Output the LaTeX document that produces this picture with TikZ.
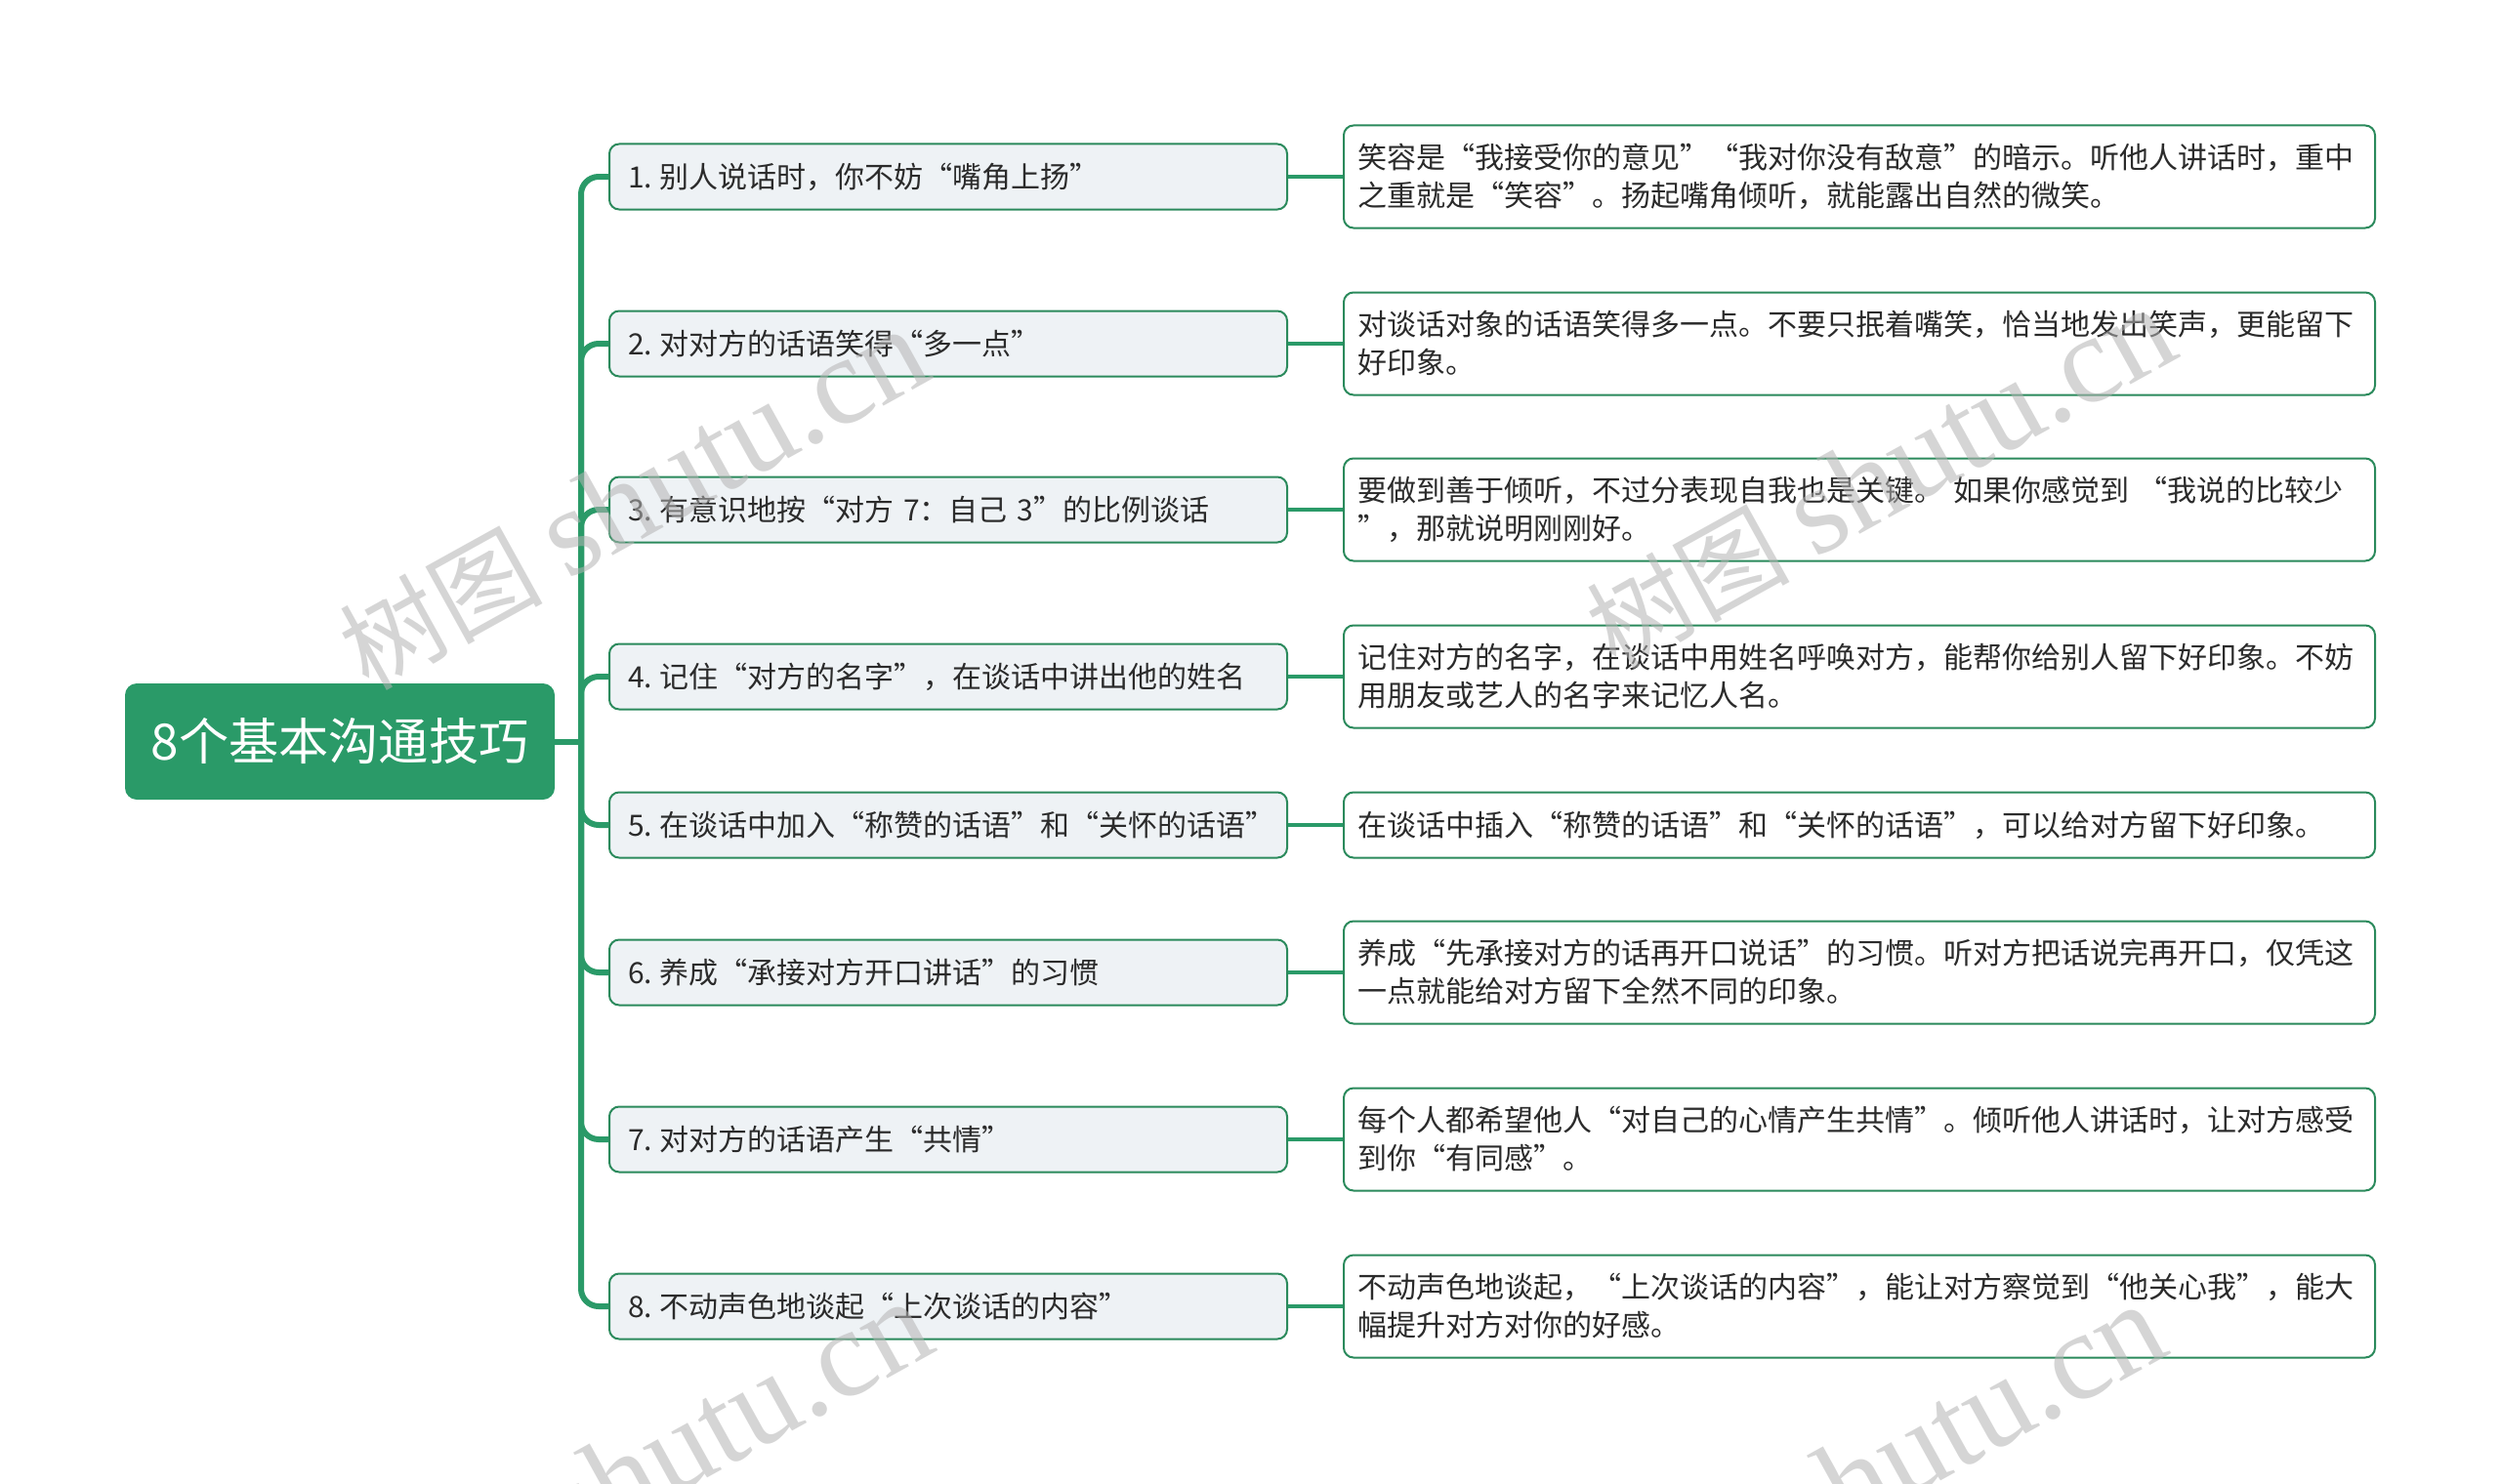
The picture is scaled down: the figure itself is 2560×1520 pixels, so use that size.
\documentclass[tikz,border=0pt]{standalone}
\usepackage{fontspec}
\setmainfont{Noto Sans CJK SC}
\newfontfamily\wmlatin{Liberation Serif}
\definecolor{mgreen}{HTML}{2A9A68}
\definecolor{bgreen}{HTML}{2B8A5C}
\definecolor{lonefill}{HTML}{EEF2F5}
\definecolor{txt}{HTML}{2B2B2B}
\definecolor{wmgray}{HTML}{B4B4B4}
\newcommand{\nsp}{\hspace{0.24em}}
\newcommand{\wmtext}{树图\hspace{0.25em}{\wmlatin\fontsize{64pt}{64pt}\selectfont shutu.cn}}
\begin{document}
\begin{tikzpicture}[x=0.5pt,y=-0.5pt,
 rootbox/.style={fill=mgreen, draw=none, rounded corners=6pt, minimum width=220pt, minimum height=59.5pt, text=white, font=\fontsize{25.6pt}{30pt}\selectfont, inner sep=0pt},
 lonebox/.style={draw=bgreen, line width=1pt, fill=lonefill, rounded corners=5pt, minimum height=33.5pt, text width=328pt, inner xsep=9.5pt, inner ysep=0pt, align=left, anchor=west, text=txt, font=\fontsize{15pt}{19.5pt}\selectfont},
 ltwobox/.style={draw=bgreen, line width=1pt, fill=white, rounded corners=5pt, text width=514pt, inner xsep=7pt, inner ysep=0pt, align=left, anchor=west, text=txt, font=\fontsize{15pt}{19.5pt}\selectfont},
 twoline/.style={minimum height=52.5pt},
 oneline/.style={minimum height=33.5pt},
 trunk/.style={draw=mgreen, line width=3pt, rounded corners=9pt},
 link/.style={draw=mgreen, line width=1.7pt},
 wm/.style={text=wmgray, text opacity=0.55, font=\fontsize{52pt}{60pt}\selectfont, rotate=29, inner sep=0pt}
]
\useasboundingbox (0,0) rectangle (2560,1520);
\fill[white] (0,0) rectangle (2560,1520);

\node[rootbox] (root) at (348,759.5) {8个基本沟通技巧};
\coordinate (j) at (595,759.5);

\node[lonebox] (a1) at (623,181) {1.\nsp 别人说话时，你不妨“嘴角上扬”};
\node[lonebox] (a2) at (623,352) {2.\nsp 对对方的话语笑得“多一点”};
\node[lonebox] (a3) at (623,522) {3.\nsp 有意识地按“对方 7：自己 3”的比例谈话};
\node[lonebox] (a4) at (623,693) {4.\nsp 记住“对方的名字”，在谈话中讲出他的姓名};
\node[lonebox] (a5) at (623,845) {5.\nsp 在谈话中加入“称赞的话语”和“关怀的话语”};
\node[lonebox] (a6) at (623,996) {6.\nsp 养成“承接对方开口讲话”的习惯};
\node[lonebox] (a7) at (623,1167) {7.\nsp 对对方的话语产生“共情”};
\node[lonebox] (a8) at (623,1338) {8.\nsp 不动声色地谈起“上次谈话的内容”};

\node[ltwobox,twoline] (b1) at (1375,181) {笑容是“我接受你的意见”“我对你没有敌意”的暗示。听他人讲话时，重中\\之重就是“笑容”。扬起嘴角倾听，就能露出自然的微笑。};
\node[ltwobox,twoline] (b2) at (1375,352) {对谈话对象的话语笑得多一点。不要只抿着嘴笑，恰当地发出笑声，更能留下\\好印象。};
\node[ltwobox,twoline] (b3) at (1375,522) {要做到善于倾听，不过分表现自我也是关键。 如果你感觉到 “我说的比较少\\”，那就说明刚刚好。};
\node[ltwobox,twoline] (b4) at (1375,693) {记住对方的名字，在谈话中用姓名呼唤对方，能帮你给别人留下好印象。不妨\\用朋友或艺人的名字来记忆人名。};
\node[ltwobox,oneline] (b5) at (1375,845) {在谈话中插入“称赞的话语”和“关怀的话语”，可以给对方留下好印象。};
\node[ltwobox,twoline] (b6) at (1375,996) {养成“先承接对方的话再开口说话”的习惯。听对方把话说完再开口，仅凭这\\一点就能给对方留下全然不同的印象。};
\node[ltwobox,twoline] (b7) at (1375,1167) {每个人都希望他人“对自己的心情产生共情”。倾听他人讲话时，让对方感受\\到你“有同感”。};
\node[ltwobox,twoline] (b8) at (1375,1338) {不动声色地谈起，“上次谈话的内容”，能让对方察觉到“他关心我”，能大\\幅提升对方对你的好感。};

\draw[trunk] (root.east) -- (j);
\foreach \i in {1,...,8} {
  \draw[trunk] (j) |- (a\i.west);
  \draw[link] (a\i.east) -- (b\i.west);
}

\node[wm] (w1) at (648,512) {\wmtext};
\node[wm] (w2) at (1925,490) {\wmtext};
\node[wm] (w3) at (652,1508) {\wmtext};
\node[wm] (w4) at (1915,1511) {\wmtext};
\end{tikzpicture}
\end{document}
